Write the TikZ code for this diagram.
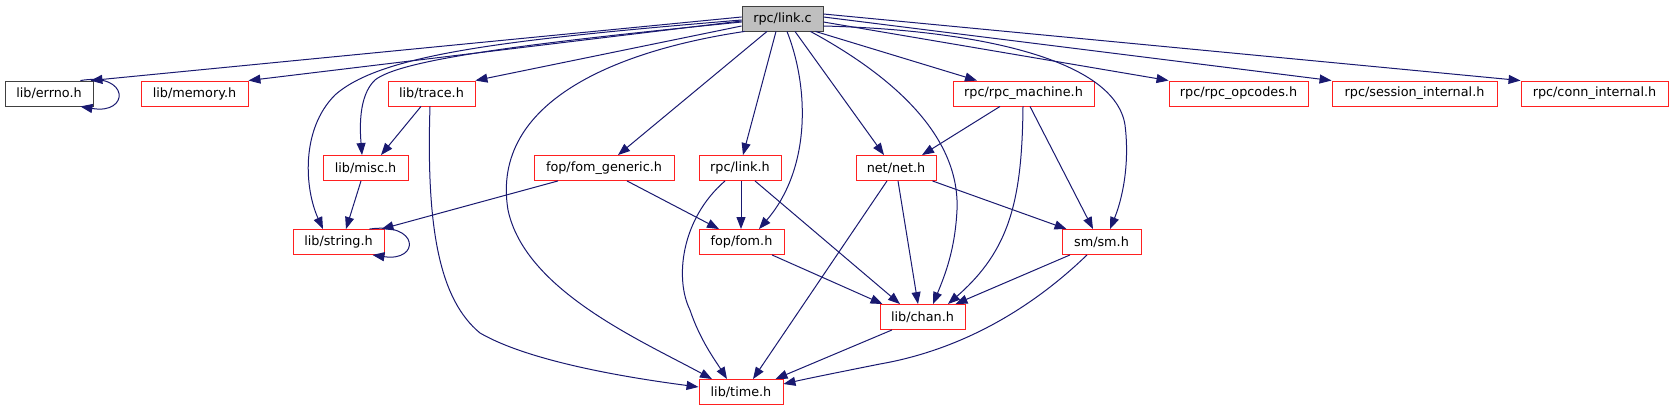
\documentclass[tikz,border=0pt]{standalone}
\usepackage{fontspec}
\setmainfont{DejaVu Sans}
\usetikzlibrary{arrows.meta}
\definecolor{edgeblue}{HTML}{191970}
\definecolor{boxred}{HTML}{FF2020}
\definecolor{rootgray}{HTML}{BFBFBF}
\definecolor{boxdark}{HTML}{404040}
\begin{document}
\begin{tikzpicture}[x=1pt,y=-1pt,
  hbox/.style={draw=boxred, fill=white, line width=0.9pt, minimum height=25pt, inner sep=0pt,
    font=\fontsize{12.8pt}{15pt}\selectfont},
  dep/.style={draw=edgeblue, line width=1pt, -{Triangle[length=12pt,width=9pt]}, edgeblue}]
\useasboundingbox (0,0) rectangle (1673,411);
% nodes
\node[hbox, minimum width=81pt, fill=rootgray, draw=boxdark] (linkc) at (782.5,18.5) {rpc/link.c};
\node[hbox, minimum width=88pt, draw=boxdark] (errno) at (49,93.5) {lib/errno.h};
\node[hbox, minimum width=107pt] (memory) at (194.5,93.5) {lib/memory.h};
\node[hbox, minimum width=87pt] (trace) at (431.5,93.5) {lib/trace.h};
\node[hbox, minimum width=141pt] (rpcm) at (1023.5,93.5) {rpc/rpc\_machine.h};
\node[hbox, minimum width=139pt] (opc) at (1238.5,93.5) {rpc/rpc\_opcodes.h};
\node[hbox, minimum width=165pt] (sess) at (1414.5,93.5) {rpc/session\_internal.h};
\node[hbox, minimum width=147pt] (conn) at (1594.5,93.5) {rpc/conn\_internal.h};
\node[hbox, minimum width=85pt] (misc) at (365.5,168) {lib/misc.h};
\node[hbox, minimum width=140pt] (fomg) at (604,168) {fop/fom\_generic.h};
\node[hbox, minimum width=82pt] (linkh) at (740,168) {rpc/link.h};
\node[hbox, minimum width=80pt] (net) at (896,168) {net/net.h};
\node[hbox, minimum width=91pt] (string) at (338.5,242) {lib/string.h};
\node[hbox, minimum width=85pt] (fom) at (741.5,242) {fop/fom.h};
\node[hbox, minimum width=79pt] (sm) at (1101.5,242) {sm/sm.h};
\node[hbox, minimum width=85pt] (chan) at (922.5,317) {lib/chan.h};
\node[hbox, minimum width=84pt] (time) at (741,392) {lib/time.h};
% edges from rpc/link.c
\draw[dep] ([yshift=1.5pt]linkc.west) -- ([xshift=-3pt]errno.north east);
\draw[dep] ([yshift=-2.5pt]linkc.west) -- (memory.north east);
\draw[dep] ([yshift=-7.5pt]linkc.west) -- (trace.north east);
\draw[dep] ([yshift=-3.5pt]linkc.west) .. controls (520,44) and (400,60) .. (375,80)
  .. controls (358,96) and (360,130) .. ([xshift=-3.5pt]misc.north);
\draw[dep] ([yshift=-1.5pt]linkc.west) .. controls (500,40) and (380,55) .. (335,95)
  .. controls (300,130) and (305,190) .. ([xshift=-15.5pt]string.north);
\draw[dep] ([xshift=3pt]linkc.south west) .. controls (620,50) and (490,100) .. (508,210)
  .. controls (525,290) and (640,340) .. ([xshift=-29pt]time.north);
\draw[dep] ([xshift=-15.5pt]linkc.south) -- ([xshift=14pt]fomg.north);
\draw[dep] ([xshift=-6.5pt]linkc.south) -- ([xshift=3pt]linkh.north);
\draw[dep] ([xshift=4.5pt]linkc.south) .. controls (810,90) and (810,170) .. ([xshift=17.5pt]fom.north);
\draw[dep] ([xshift=12.5pt]linkc.south) -- ([xshift=-12pt]net.north);
\draw[dep] ([xshift=-13pt]linkc.south east) .. controls (900,80) and (960,140) .. (957,210)
  .. controls (955,250) and (945,275) .. ([xshift=10.5pt]chan.north);
\draw[dep] ([xshift=-8pt]linkc.south east) -- ([xshift=-46.5pt]rpcm.north);
\draw[dep] ([yshift=-7.5pt]linkc.east) .. controls (980,30) and (1115,60) .. (1125,125)
  .. controls (1130,165) and (1122,200) .. ([xshift=8.5pt]sm.north);
\draw[dep] ([yshift=-3.5pt]linkc.east) -- (opc.north west);
\draw[dep] ([yshift=1.5pt]linkc.east) -- (sess.north west);
\draw[dep] ([yshift=4.5pt]linkc.east) -- (conn.north west);
% other edges
\draw[dep] ([xshift=-13pt]errno.north east) .. controls (130,72) and (130,115) .. ([xshift=-13pt]errno.south east);
\draw[dep] ([xshift=-10.5pt]trace.south) -- ([xshift=15.5pt]misc.north);
\draw[dep] ([xshift=-1.5pt]trace.south) .. controls (426,230) and (440,300) .. (480,333)
  .. controls (530,362) and (630,378) .. ([yshift=5pt]time.west);
\draw[dep] ([xshift=-4.5pt]misc.south) -- ([xshift=7.5pt]string.north);
\draw[dep] ([xshift=-15pt]string.north east) .. controls (420,222) and (420,262) .. ([xshift=-12pt]string.south east);
\draw[dep] ([xshift=-46pt]fomg.south) -- ([xshift=-3pt]string.north east);
\draw[dep] ([xshift=23pt]fomg.south) -- ([xshift=-22.5pt]fom.north);
\draw[dep] ([xshift=1pt]linkh.south) -- ([xshift=-0.5pt]fom.north);
\draw[dep] ([xshift=15pt]linkh.south) -- ([xshift=-22.5pt]chan.north);
\draw[dep] ([xshift=-15pt]linkh.south) .. controls (680,220) and (675,280) .. (690,310)
  .. controls (700,340) and (715,360) .. ([xshift=-14pt]time.north);
\draw[dep] ([xshift=30.5pt]fom.south) -- ([xshift=3pt]chan.north west);
\draw[dep] ([xshift=-4pt]net.south east) -- ([xshift=5pt]sm.north west);
\draw[dep] ([xshift=2pt]net.south) -- ([xshift=-4.5pt]chan.north);
\draw[dep] ([xshift=-9pt]net.south) -- ([xshift=12pt]time.north);
\draw[dep] ([xshift=-23.5pt]rpcm.south) -- ([xshift=26pt]net.north);
\draw[dep] ([xshift=-0.5pt]rpcm.south) .. controls (1022,200) and (1010,250) .. ([xshift=25.5pt]chan.north);
\draw[dep] ([xshift=6.5pt]rpcm.south) -- ([xshift=-8.5pt]sm.north);
\draw[dep] ([xshift=-31.5pt]sm.south) -- ([xshift=-10pt]chan.north east);
\draw[dep] ([xshift=-14.5pt]sm.south) .. controls (1030,310) and (960,350) .. (880,364)
  .. controls (840,372) and (810,378) .. ([yshift=8pt]time.east);
\draw[dep] ([xshift=-30.5pt]chan.south) -- ([xshift=-8pt]time.north east);
\end{tikzpicture}
\end{document}
